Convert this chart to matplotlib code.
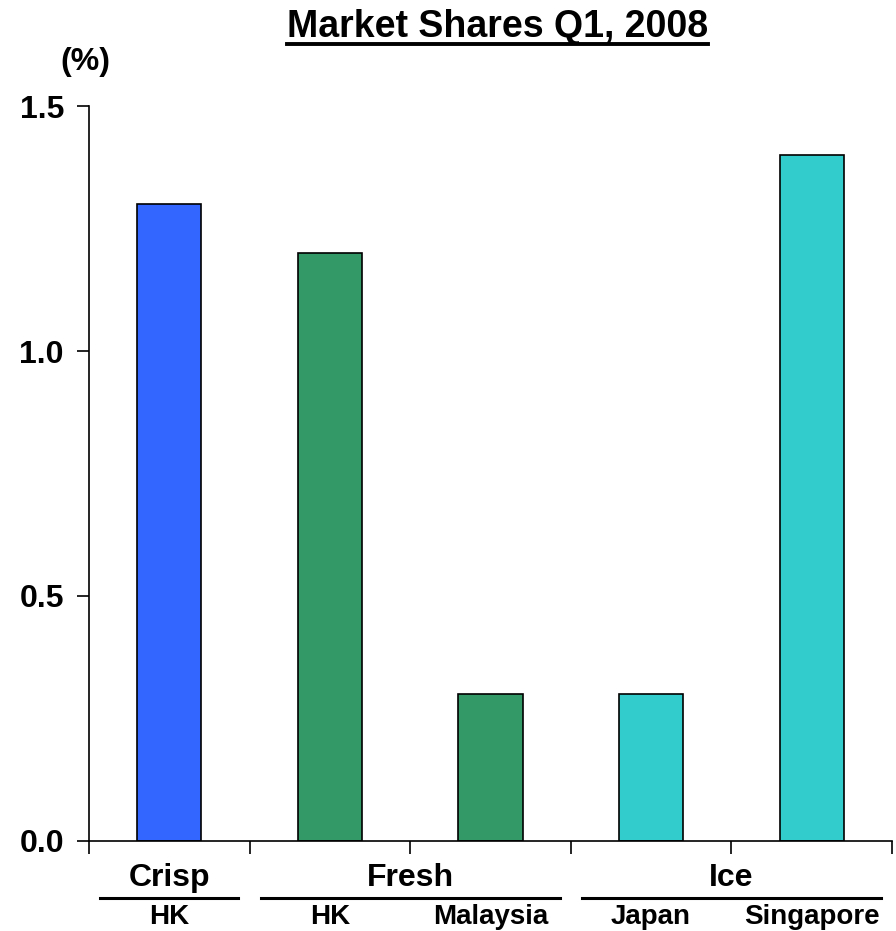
import matplotlib
matplotlib.use('Agg')
import matplotlib.pyplot as plt
from matplotlib.lines import Line2D
import numpy as np

plt.rcParams['font.family'] = ['Liberation Sans', 'DejaVu Sans']
plt.rcParams['font.weight'] = 'bold'

# data
groups = ['Crisp', 'Fresh', 'Ice']
group_sizes = [1, 2, 2]
countries = ['HK', 'HK', 'Malaysia', 'Japan', 'Singapore']
shares = [1.3, 1.2, 0.3, 0.3, 1.4]
colors = ['#3366FF', '#339966', '#339966', '#33CCCC', '#33CCCC']

fig = plt.figure(figsize=(8.96, 9.31), dpi=100)
ax = fig.add_axes([0.0993, 0.0967, 0.8962, 0.7894])

x = np.arange(len(shares))
ax.bar(x, shares, width=0.4, color=colors, edgecolor='black', linewidth=1.2)
ax.set_xlim(-0.5, len(shares) - 0.5)
ax.set_ylim(0, 1.5)

for s in ['top', 'right']:
    ax.spines[s].set_visible(False)
for s in ['left', 'bottom']:
    ax.spines[s].set_linewidth(1.2)

ax.set_yticks([0.0, 0.5, 1.0, 1.5])
ax.set_yticklabels(['0.0', '0.5', '1.0', '1.5'], fontsize=23, fontweight='bold')
ax.tick_params(axis='y', direction='out', length=9, width=1.2, pad=9)
ax.set_xticks(np.arange(len(shares) + 1) - 0.5)
ax.set_xticklabels([])
ax.tick_params(axis='x', direction='out', length=9, width=1.2)

# country labels
for i, c in enumerate(countries):
    ax.text(i, -0.155, c, ha='center', va='center', fontsize=20, fontweight='bold',
            clip_on=False)

# group labels with lines under them
start = 0
for g, n in zip(groups, group_sizes):
    mid = start + (n - 1) / 2
    ax.text(mid, -0.075, g, ha='center', va='center', fontsize=23, fontweight='bold',
            clip_on=False)
    ax.add_line(Line2D([start - 0.43, start + n - 1 + 0.43], [-0.117, -0.117],
                       color='black', linewidth=2.2, clip_on=False))
    start += n

fig.text(0.095, 0.933, '(%)', ha='center', va='center', fontsize=23, fontweight='bold')

title = fig.text(0.555, 0.971, 'Market Shares Q1, 2008', ha='center', va='center',
                 fontsize=27, fontweight='bold')
fig.canvas.draw()
bb = title.get_window_extent().transformed(fig.transFigure.inverted())
fig.add_artist(Line2D([bb.x0, bb.x1], [bb.y0 + 0.001, bb.y0 + 0.001], color='black',
                      linewidth=2.8, transform=fig.transFigure))

fig.savefig('out.png', dpi=100)
